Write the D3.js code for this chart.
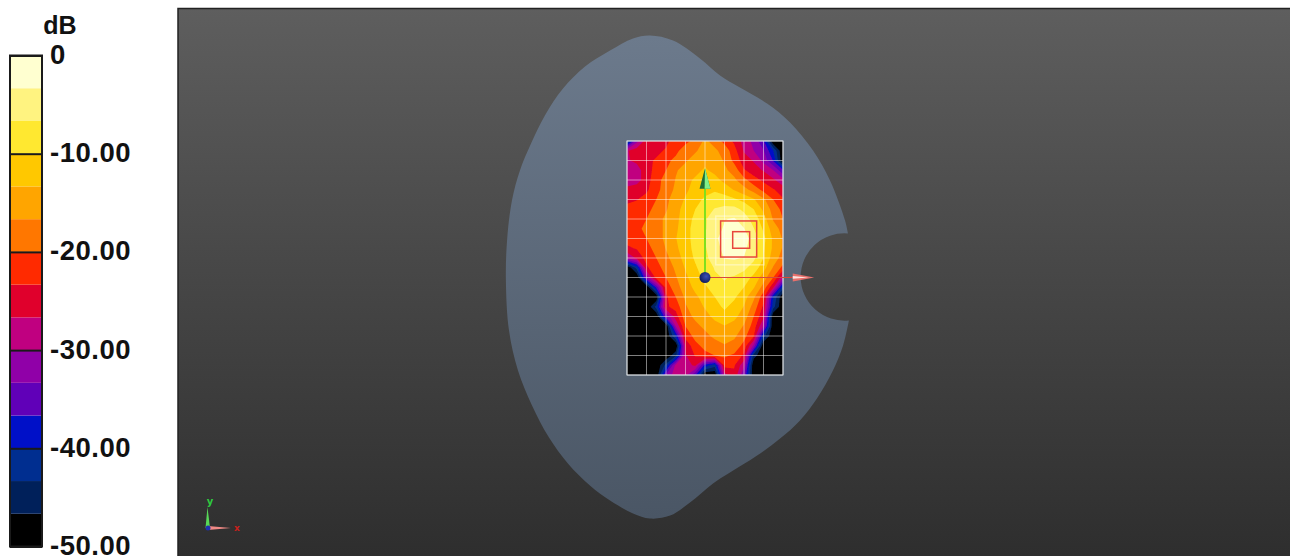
<!DOCTYPE html>
<html>
<head>
<meta charset="utf-8">
<script src="https://cdn.jsdelivr.net/npm/d3@7"></script>
<style>
html, body { margin: 0; padding: 0; background: #fff; overflow: hidden; }
svg { display: block; }
.legend-axis text { font-family: "Liberation Sans Narrow", "Liberation Sans", sans-serif; font-weight: bold; font-size: 27.5px; letter-spacing: 0.5px; fill: #111; }
</style>
</head>
<body>
<div id="chart"></div>
<script>
const width = 1290;
const height = 556;

// colour bands, from -50 dB up to 0 dB
const bandColors = ["#000000", "#00205a", "#002e90", "#0010c8", "#6000b8", "#9000a8", "#c00080", "#e0002c",
    "#ff2a00", "#ff7700", "#ffa500", "#ffc800", "#ffe830", "#fff380", "#ffffd0"];
const legendTicks = [0, -10, -20, -30, -40, -50];

// white grid lines of the scan area
const gridX = [-40, -30, -20, -10, 0, 10, 20, 30, 40];
const gridY = [70, 60, 50, 40, 30, 20, 10, 0, -10, -20, -30, -40, -50];

// dB read at half grid steps, 17 columns x 25 rows
const scanX = [-40, -35, -30, -25, -20, -15, -10, -5, 0, 5, 10, 15, 20, 25, 30, 35, 40];
const scanY = [70, 65, 60, 55, 50, 45, 40, 35, 30, 25, 20, 15, 10, 5, 0, -5, -10, -15, -20, -25, -30, -35, -40, -45, -50];
const scanDb = [
    -45, -31, -25, -26, -24, -22, -21, -19, -16, -18, -21, -24, -28, -31, -36, -50, -50,
    -27, -25, -25, -24, -23, -21, -18, -17, -15.5, -16, -18, -22, -27, -30, -33, -40, -50,
    -27, -26, -24, -23, -21, -19, -17, -15.5, -14, -15, -17, -21, -25, -27, -31, -37, -50,
    -28, -28, -25, -22, -20, -17, -15.5, -14, -13, -14, -16, -18, -23, -25, -27, -30, -36,
    -28, -28, -25, -21, -19, -16.5, -14, -13, -12, -12.5, -14, -16, -19, -22, -24, -26, -29,
    -26, -25, -24, -21, -18.5, -16, -14, -12, -11, -10.5, -12, -13.5, -15.5, -18, -21, -23, -25,
    -24, -23.5, -22, -20, -17.5, -15, -13, -11, -9.5, -8, -8, -9.5, -11, -13, -16, -20, -23,
    -22.5, -22, -21, -19, -17, -14.5, -12, -10, -8, -6.5, -6, -5.5, -7.5, -10, -14, -18, -21,
    -21.5, -21, -20, -18, -16, -14, -12, -9, -7, -5, -3.5, -3, -5, -8, -12, -17, -20,
    -21, -20.5, -19.5, -18, -16, -14, -11, -9, -7, -4.5, -3, -2, -3.2, -6.5, -10.5, -15, -18,
    -22, -21, -20, -18, -16, -13.5, -11, -9, -6.5, -4, -2, -1, -1.5, -5, -9, -14, -17,
    -24, -23, -21, -19, -16.5, -14, -11.5, -9, -7, -4.5, -2.5, -1.5, -2.5, -5.5, -9.5, -14, -17,
    -30, -26, -22, -20, -17.5, -15, -12, -9.5, -7.5, -5, -3.2, -3, -3.5, -6, -10, -15, -18,
    -50, -42, -24, -21, -19, -16, -13, -10.5, -8, -6.5, -5, -5, -6, -8, -12, -17, -21,
    -50, -50, -32, -22, -20, -17, -14, -11.5, -9, -7, -6.5, -7, -8, -11, -15, -20, -29,
    -50, -50, -50, -36, -22, -18, -15, -12.5, -10.5, -8.5, -7, -8, -10, -13, -18, -26, -42,
    -50, -50, -50, -50, -24, -20, -16, -14, -12, -10, -8, -9.5, -12, -16, -22, -40, -50,
    -50, -50, -50, -42, -24, -22, -17, -15, -13, -11, -9.5, -11, -13.5, -18, -24, -42, -50,
    -50, -50, -50, -50, -33, -25, -18, -16, -14.5, -12.5, -11, -12.5, -15, -20, -26, -50, -50,
    -50, -50, -50, -50, -50, -30, -20, -17.5, -16, -14.5, -13.5, -14.5, -17, -21.5, -30, -50, -50,
    -50, -50, -50, -50, -50, -40, -22, -19, -17.5, -16, -15, -16, -19, -23, -42, -50, -50,
    -50, -50, -50, -50, -50, -50, -26, -21, -19, -18, -17, -18, -21, -31, -50, -50, -50,
    -50, -50, -50, -50, -50, -44, -27, -23, -21, -20, -19.5, -20.5, -24, -45, -50, -50, -50,
    -50, -50, -50, -50, -42, -29, -28, -26, -38, -42, -22, -23, -29, -50, -50, -50, -50,
    -50, -50, -50, -50, -33, -28, -29, -36, -50, -50, -28, -24, -33, -50, -50, -50, -50
];

// phantom outline in the same units, from the notch top round to the notch bottom
const phantomX = [73.3, 71.8, 64.1, 55.4, 43.6, 31.8, 17.9, 7.7, -2.6, -16.4, -28.2, -36.9, -48.7, -61.5, -72.8,
    -82.1, -89.2, -94.9, -99, -101.5, -102.1, -100.5, -95.9, -88.7, -80, -70.3, -59, -48.7, -36.9, -28.2,
    -17.9, -7.7, 4.1, 12.8, 26.7, 38.5, 48.7, 57.4, 65.6, 70.8, 73.8];
const phantomY = [22.6, 29.2, 49.7, 65.1, 79.5, 89.2, 97.4, 103.6, 112.3, 121.5, 124.1, 122.6, 116.4, 108.2, 96.9,
    83.1, 68.7, 54.9, 39.5, 19, -1.5, -27.2, -47.7, -65.6, -82.1, -95.4, -106.7, -114.4, -121, -123.6,
    -122.1, -115.4, -105.6, -100, -91.3, -82.6, -73.3, -62, -47.7, -34.9, -22];
const notchRadius = 22.4;

const x = d3.scaleLinear().domain([-40, 40]).range([627, 783]);
const y = d3.scaleLinear().domain([70, -50]).range([141, 375]);
const dbY = d3.scaleLinear().domain([0, -50]).range([55.5, 546.5]);
const bandColor = d3.scaleQuantize().domain([-50, 0]).range(bandColors);
const bandEdges = d3.range(bandColors.length).map(i => -50 + i * 50 / bandColors.length);

const svg = d3.select("#chart").append("svg")
    .attr("width", width)
    .attr("height", height);

const defs = svg.append("defs");

function addGradient(id, top, bottom, y1, y2) {
    const g = defs.append("linearGradient")
        .attr("id", id)
        .attr("gradientUnits", "userSpaceOnUse")
        .attr("x1", 0).attr("x2", 0)
        .attr("y1", y1).attr("y2", y2);
    g.append("stop").attr("offset", 0).attr("stop-color", top);
    g.append("stop").attr("offset", 1).attr("stop-color", bottom);
}
addGradient("bg", "#5e5e5e", "#2e2e2e", 8, 556);
addGradient("phantom", "#6c7a8c", "#4a5665", 36, 519);

const ball = defs.append("radialGradient").attr("id", "ball")
    .attr("cx", 0.6).attr("cy", 0.4).attr("r", 0.6);
ball.append("stop").attr("offset", 0).attr("stop-color", "#3a50b8");
ball.append("stop").attr("offset", 1).attr("stop-color", "#141f60");

defs.append("filter").attr("id", "soft")
    .append("feGaussianBlur").attr("stdDeviation", 0.5);
defs.append("clipPath").attr("id", "scan-clip")
    .append("rect")
    .attr("x", x(-40)).attr("y", y(70))
    .attr("width", x(40) - x(-40)).attr("height", y(-50) - y(70));

function drawLegend() {
    const g = svg.append("g");
    g.selectAll("rect")
        .data(bandEdges)
        .enter()
        .append("rect")
        .attr("x", 10)
        .attr("width", 32)
        .attr("y", d => dbY(d + 50 / bandColors.length))
        .attr("height", d => dbY(d) - dbY(d + 50 / bandColors.length))
        .attr("fill", d => bandColor(d + 0.01));
    g.append("rect")
        .attr("x", 10).attr("y", dbY(0))
        .attr("width", 32).attr("height", dbY(-50) - dbY(0))
        .attr("fill", "none")
        .attr("stroke", "#1a1a1a")
        .attr("stroke-width", 2);

    const axis = d3.axisRight(dbY)
        .tickValues(legendTicks)
        .tickSize(32)
        .tickPadding(8)
        .tickFormat(d => d === 0 ? "0" : d.toFixed(2));
    const ag = svg.append("g")
        .attr("class", "legend-axis")
        .attr("transform", "translate(10,0)")
        .call(axis);
    ag.select(".domain").remove();
    ag.selectAll("line").attr("stroke", "#1a1a1a").attr("stroke-width", 2);
    ag.selectAll("text").attr("dy", "0.29em");

    svg.append("text")
        .attr("x", 60).attr("y", 34)
        .attr("text-anchor", "middle")
        .style("font-family", "'Liberation Sans', sans-serif")
        .style("font-weight", "bold")
        .style("font-size", "25px")
        .style("fill", "#111")
        .text("dB");
}

function drawPanel() {
    svg.append("rect")
        .attr("x", 178).attr("y", 8)
        .attr("width", width - 178).attr("height", height - 8)
        .attr("fill", "url(#bg)");
    svg.append("path")
        .attr("d", `M178,556V8.5H${width}`)
        .attr("fill", "none")
        .attr("stroke", "#222")
        .attr("stroke-width", 1.5);
}

function drawPhantom() {
    const pts = phantomX.map((d, i) => [x(d), y(phantomY[i])]);
    const line = d3.line().curve(d3.curveCatmullRom.alpha(0.5));
    const r = x(notchRadius) - x(0);
    svg.append("path")
        .attr("d", `${line(pts)}A${r},${r} 0 1 1 ${pts[0][0]},${pts[0][1]}Z`)
        .attr("fill", "url(#phantom)");
}

function drawScan() {
    const g = svg.append("g").attr("clip-path", "url(#scan-clip)");
    const inner = g.append("g").attr("filter", "url(#soft)");
    const contours = d3.contours()
        .size([scanX.length, scanY.length])
        .thresholds(bandEdges)(scanDb);

    // contour coordinates put node i at i + 0.5
    const gx = d3.scaleLinear().domain([0.5, scanX.length - 0.5]).range([x(-40), x(40)]);
    const gy = d3.scaleLinear().domain([0.5, scanY.length - 0.5]).range([y(70), y(-50)]);
    const path = d3.geoPath(d3.geoTransform({
        point(px, py) { this.stream.point(gx(px), gy(py)); }
    }));

    inner.append("rect")
        .attr("x", x(-40)).attr("y", y(70))
        .attr("width", x(40) - x(-40)).attr("height", y(-50) - y(70))
        .attr("fill", "#000");
    inner.selectAll("path")
        .data(contours)
        .enter()
        .append("path")
        .attr("d", path)
        .attr("fill", d => bandColor(d.value + 0.01));

    const grid = svg.append("g")
        .attr("stroke", "#fff")
        .attr("stroke-opacity", 0.5)
        .attr("stroke-width", 1);
    grid.selectAll("line.v")
        .data(gridX)
        .enter()
        .append("line")
        .attr("class", "v")
        .attr("x1", d => x(d)).attr("x2", d => x(d))
        .attr("y1", y(70)).attr("y2", y(-50));
    grid.selectAll("line.h")
        .data(gridY)
        .enter()
        .append("line")
        .attr("class", "h")
        .attr("y1", d => y(d)).attr("y2", d => y(d))
        .attr("x1", x(-40)).attr("x2", x(40));
    svg.append("rect")
        .attr("x", x(-40)).attr("y", y(70))
        .attr("width", x(40) - x(-40)).attr("height", y(-50) - y(70))
        .attr("fill", "none")
        .attr("stroke", "#d8dde2")
        .attr("stroke-width", 1);
}

function drawMarkers() {
    const box = (x0, y0, x1, y1, stroke, opacity) => svg.append("rect")
        .attr("x", x(x0)).attr("y", y(y1))
        .attr("width", x(x1) - x(x0)).attr("height", y(y0) - y(y1))
        .attr("fill", "none")
        .attr("stroke", stroke)
        .attr("stroke-opacity", opacity)
        .attr("stroke-width", 1.5);
    box(5.5, 6.5, 30.3, 31.5, "#fff", 0.4);
    box(8, 10.5, 26.5, 29, "#e8463c", 1);
    box(14.2, 15, 22.9, 23.5, "#e8463c", 1);

    // x arrow
    svg.append("line")
        .attr("x1", x(0)).attr("x2", x(45))
        .attr("y1", y(0)).attr("y2", y(0))
        .attr("stroke", "#d8483c").attr("stroke-width", 1);
    svg.append("path")
        .attr("d", d3.line()([[x(45), y(2)], [x(56), y(0)], [x(45), y(-2)]]))
        .attr("fill", "#e8706c");
    svg.append("path")
        .attr("d", d3.line()([[x(45), y(0.8)], [x(53), y(0)], [x(45), y(-0.6)]]))
        .attr("fill", "#ffe4e0");

    // y arrow
    svg.append("line")
        .attr("x1", x(0)).attr("x2", x(0))
        .attr("y1", y(0)).attr("y2", y(47))
        .attr("stroke", "#7ee01e").attr("stroke-width", 2);
    svg.append("path")
        .attr("d", d3.line()([[x(-2.8), y(45.5)], [x(0), y(56)], [x(2.8), y(45.5)]]))
        .attr("fill", "#1f6f38");
    svg.append("path")
        .attr("d", d3.line()([[x(-0.2), y(45.5)], [x(0), y(56)], [x(2.8), y(45.5)]]))
        .attr("fill", "#7ff08a");

    svg.append("circle")
        .attr("cx", x(0)).attr("cy", y(0))
        .attr("r", 5.5)
        .attr("fill", "url(#ball)");
}

function drawTriad() {
    const g = svg.append("g").attr("transform", "translate(208,528)");
    g.append("path").attr("d", "M-2.5,0L-0.5,-21L2,0Z").attr("fill", "#58d858");
    g.append("path").attr("d", "M0,-2L23,0L0,2Z").attr("fill", "#f08a86");
    g.append("circle").attr("r", 2.5).attr("fill", "#2030b0");
    g.append("text").attr("x", 2).attr("y", -23)
        .attr("text-anchor", "middle")
        .style("font", "bold 10px 'DejaVu Sans', sans-serif")
        .style("fill", "#2ecc40")
        .text("y");
    g.append("text").attr("x", 29).attr("y", 3)
        .attr("text-anchor", "middle")
        .style("font", "bold 9px 'DejaVu Sans', sans-serif")
        .style("fill", "#c8201c")
        .text("x");
}

drawLegend();
drawPanel();
drawPhantom();
drawScan();
drawMarkers();
drawTriad();
</script>
</body>
</html>
